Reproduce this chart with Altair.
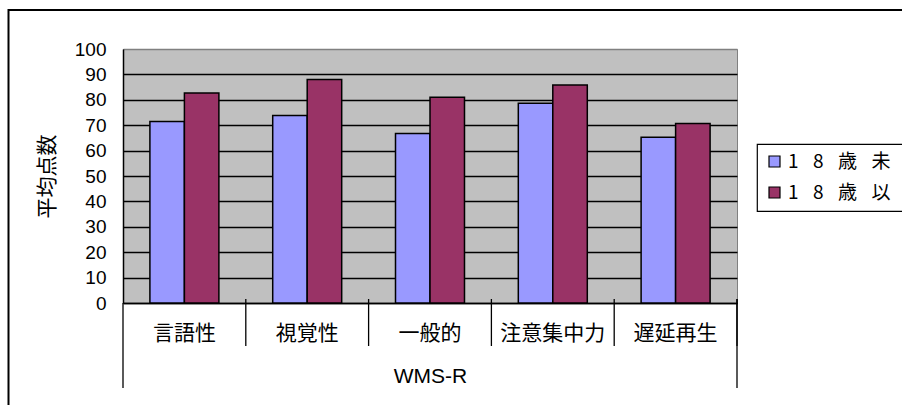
import altair as alt
import pandas as pd

# WMS-R subscale means by age group
categories = ["言語性", "視覚性", "一般的", "注意集中力", "遅延再生"]
groups = ["18歳未満", "18歳以上"]
under18 = [71.5, 73.8, 66.7, 78.6, 65.3]
over18 = [82.7, 88.0, 81.0, 85.8, 70.7]
y_ticks = [0, 10, 20, 30, 40, 50, 60, 70, 80, 90, 100]
colors = ["#9999FF", "#993366"]

df = pd.DataFrame({
    "検査": categories * 2,
    "群": [groups[0]] * len(categories) + [groups[1]] * len(categories),
    "平均点数": under18 + over18,
})
cat_df = pd.DataFrame({"検査": categories})

W, H = 614, 254
JP = "Noto Sans CJK JP"
LAT = "Liberation Sans"

x_scale = alt.Scale(domain=categories, paddingInner=0, paddingOuter=0)
x_axis = alt.Axis(
    title="WMS-R", ticks=False, labelAngle=0, labelFont=JP, labelFontSize=21,
    labelColor="black", labelPadding=30, labelBaseline="middle", labelOverlap=False,
    domainColor="black", domainWidth=1.5,
    titleFont=LAT, titleFontSize=21, titleFontWeight="normal", titleColor="black",
    titleY=73, titleBaseline="middle",
)


def x_enc(band=None):
    if band is None:
        return alt.X("検査:N", sort=categories, scale=x_scale, axis=x_axis)
    return alt.X("検査:N", sort=categories, scale=x_scale, axis=x_axis, bandPosition=band)


# outer chart-area border (top and left edges; the rest runs past the page)
one = alt.Data(values=[{}])
frame_top = alt.Chart(one).mark_rule(color="black", strokeWidth=2).encode(
    x=alt.value(-114.5), x2=alt.value(800), y=alt.value(-39)
)
frame_left = alt.Chart(one).mark_rule(color="black", strokeWidth=2).encode(
    x=alt.value(-114.5), y=alt.value(-40), y2=alt.value(400)
)

bars = alt.Chart(df).mark_bar(stroke="black", strokeWidth=1.5).encode(
    x=x_enc(),
    xOffset=alt.XOffset("群:N", sort=groups,
                        scale=alt.Scale(paddingInner=0, paddingOuter=0.78)),
    y=alt.Y(
        "平均点数:Q",
        scale=alt.Scale(domain=[0, 100], nice=False),
        axis=alt.Axis(
            values=y_ticks, ticks=False, grid=True,
            gridColor={"condition": {"test": "datum.value === 100", "value": "#808080"},
                       "value": "black"},
            gridWidth=1.5, domainColor="black", domainWidth=1.5,
            labelFont=LAT, labelFontSize=19, labelColor="black", labelPadding=17,
            title="平均点数", titleFont=JP, titleFontSize=21, titleFontWeight="normal",
            titleColor="black", titleX=-76, titleY=127, titleBaseline="middle",
        ),
    ),
    color=alt.Color(
        "群:N", sort=groups, scale=alt.Scale(domain=groups, range=colors),
        legend=alt.Legend(
            title=None, orient="none", legendX=634, legendY=95,
            symbolType="square", symbolSize=121, symbolStrokeColor="black",
            symbolStrokeWidth=1.2, symbolOpacity=1,
            labelFont=JP, labelFontSize=19, labelColor="black", labelOffset=4,
            labelLimit=600, rowPadding=11, padding=8,
            fillColor="white", strokeColor="black",
            labelExpr="join(split(datum.label, ''), '\u2002\u2009\u200a')",
        ),
    ),
)

# separators between category labels (crossing the axis line)
separators = alt.Chart(cat_df).mark_rule(color="black", strokeWidth=1.3).encode(
    x=x_enc(1), y=alt.value(H - 4), y2=alt.value(H + 43)
)
# long outer edges enclosing the group label
left_edge = alt.Chart(cat_df.head(1)).mark_rule(color="black", strokeWidth=1.3).encode(
    x=x_enc(0), y=alt.value(H), y2=alt.value(H + 85)
)
right_edge = alt.Chart(cat_df.tail(1)).mark_rule(color="black", strokeWidth=1.3).encode(
    x=x_enc(1), y=alt.value(H - 4), y2=alt.value(H + 85)
)

chart = alt.layer(frame_top, frame_left, bars, separators, left_edge, right_edge).properties(
    width=W, height=H,
    autosize=alt.AutoSizeParams(type="none"),
    padding={"left": 123, "top": 49, "right": 165, "bottom": 102},
    background="white",
).configure(font=JP).configure_view(
    fill="#C0C0C0", stroke="#808080", strokeWidth=1
).configure_legend(strokeWidth=1.2)

chart.save("out.html", embed_options={"renderer": "svg", "actions": False})
